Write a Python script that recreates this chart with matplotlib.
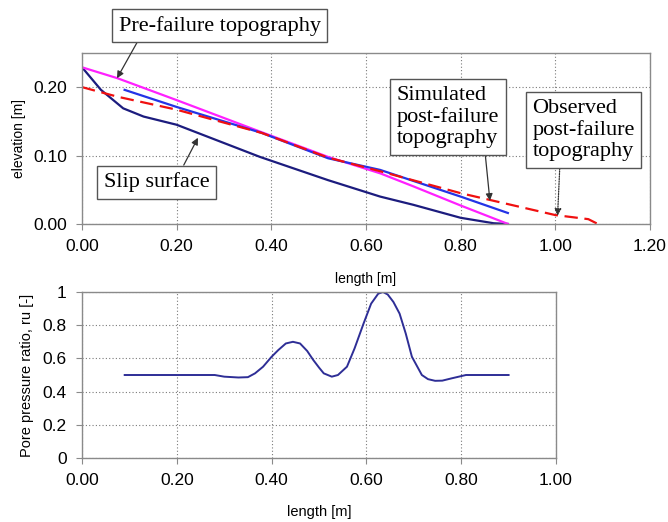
import numpy as np
import matplotlib
matplotlib.use('Agg')
import matplotlib.pyplot as plt
from matplotlib.ticker import FormatStrFormatter, FuncFormatter

# top panel: topography profiles (length [m], elevation [m])
pre_x = [0.0, 0.075, 0.20, 0.38, 0.52, 0.63, 0.70, 0.80, 0.90]
pre_y = [0.229, 0.213, 0.181, 0.134, 0.098, 0.074, 0.055, 0.027, 0.0]
sim_x = [0.09, 0.20, 0.38, 0.52, 0.63, 0.80, 0.90]
sim_y = [0.196, 0.171, 0.133, 0.096, 0.079, 0.040, 0.016]
obs_x = [0.0, 0.075, 0.20, 0.38, 0.52, 0.63, 0.80, 1.00, 1.07, 1.09]
obs_y = [0.200, 0.186, 0.167, 0.133, 0.097, 0.077, 0.045, 0.013, 0.007, 0.0]
slip_x = [0.0, 0.04, 0.087, 0.13, 0.20, 0.376, 0.52, 0.63, 0.70, 0.80, 0.87, 0.90]
slip_y = [0.229, 0.196, 0.169, 0.157, 0.145, 0.098, 0.064, 0.040, 0.028, 0.009, 0.001, 0.0]

# bottom panel: pore pressure ratio along the slope
ru_x = [0.09, 0.28, 0.30, 0.33, 0.35, 0.365, 0.382, 0.40, 0.414, 0.43, 0.445,
        0.46, 0.475, 0.488, 0.50, 0.51, 0.527, 0.54, 0.559, 0.575, 0.594,
        0.61, 0.625, 0.635, 0.645, 0.657, 0.67, 0.683, 0.696, 0.717, 0.73,
        0.745, 0.76, 0.78, 0.81, 0.90]
ru_y = [0.5, 0.5, 0.49, 0.485, 0.487, 0.51, 0.55, 0.61, 0.65, 0.69, 0.70,
        0.69, 0.645, 0.59, 0.545, 0.51, 0.49, 0.50, 0.55, 0.66, 0.81,
        0.93, 0.99, 1.0, 0.985, 0.94, 0.87, 0.75, 0.61, 0.50, 0.475,
        0.465, 0.466, 0.48, 0.5, 0.5]

top_xticks = [0.0, 0.2, 0.4, 0.6, 0.8, 1.0, 1.2]
top_yticks = [0.0, 0.1, 0.2]
bot_xticks = [0.0, 0.2, 0.4, 0.6, 0.8, 1.0]
bot_yticks = [0.0, 0.2, 0.4, 0.6, 0.8, 1.0]

SANS = 'Liberation Sans'
SERIF = 'Liberation Serif'
FRAME = '#8a8a8a'


def style_axes(ax):
    for s in ax.spines.values():
        s.set_color(FRAME)
        s.set_linewidth(1.0)
    ax.grid(True, color='#7a7a7a', linestyle=(0, (1, 2)), linewidth=0.8)
    ax.set_axisbelow(True)
    ax.tick_params(direction='out', length=4, color=FRAME, labelsize=12.5,
                   pad=7)
    for lab in ax.get_xticklabels() + ax.get_yticklabels():
        lab.set_fontfamily(SANS)


def arrow_props(rel, dotted=False):
    d = dict(arrowstyle='-|>', color='#333333', lw=0.9, mutation_scale=10,
             shrinkA=0, shrinkB=0, relpos=rel)
    if dotted:
        d['linestyle'] = (0, (1, 1))
    return d


fig = plt.figure(figsize=(6.68, 5.22), dpi=100)

ax1 = fig.add_axes([0.1228, 0.571, 0.850, 0.3276])
ax1.plot(slip_x, slip_y, color='#1c1c7e', lw=1.6)
ax1.plot(pre_x, pre_y, color='#ff20ff', lw=1.6)
ax1.plot(sim_x, sim_y, color='#2433e6', lw=1.6)
ax1.plot(obs_x, obs_y, color='#f01010', lw=1.6, dashes=(6, 3))
ax1.set_xlim(0, 1.2)
ax1.set_ylim(0, 0.25)
ax1.set_xticks(top_xticks)
ax1.set_yticks(top_yticks)
ax1.xaxis.set_major_formatter(FormatStrFormatter('%.2f'))
ax1.yaxis.set_major_formatter(FormatStrFormatter('%.2f'))
style_axes(ax1)
ax1.set_xlabel('length [m]', fontfamily=SANS, fontsize=10, labelpad=13)
ax1.set_ylabel('elevation [m]', fontfamily=SANS, fontsize=10, labelpad=5)

box = dict(boxstyle='square,pad=0.3', fc='white', ec='#555555', lw=1.0)
ax1.annotate('Pre-failure topography', xy=(0.074, 0.213), xytext=(0.291, 0.290),
             ha='center', va='center', fontfamily=SERIF, fontsize=16,
             bbox=box, arrowprops=arrow_props((0.11, 0.0)),
             annotation_clip=False)
ax1.annotate('Slip surface', xy=(0.245, 0.126), xytext=(0.158, 0.061),
             ha='center', va='center', fontfamily=SERIF, fontsize=16,
             bbox=box, arrowprops=arrow_props((0.72, 1.0)))
ax1.annotate('Simulated\npost-failure\ntopography', xy=(0.862, 0.034),
             xytext=(0.773, 0.156), ha='center', va='center',
             multialignment='left', fontfamily=SERIF, fontsize=16,
             linespacing=1.15, bbox=box,
             arrowprops=arrow_props((0.86, 0.0)))
ax1.annotate('Observed\npost-failure\ntopography', xy=(1.005, 0.012),
             xytext=(1.06, 0.137), ha='center', va='center',
             multialignment='left', fontfamily=SERIF, fontsize=16,
             linespacing=1.15, bbox=box,
             arrowprops=arrow_props((0.27, 0.0), dotted=True))

ax2 = fig.add_axes([0.1228, 0.1226, 0.7095, 0.318])
ax2.plot(ru_x, ru_y, color='#2e2e96', lw=1.4)
ax2.set_xlim(0, 1.0)
ax2.set_ylim(0, 1.0)
ax2.set_xticks(bot_xticks)
ax2.set_yticks(bot_yticks)
ax2.xaxis.set_major_formatter(FormatStrFormatter('%.2f'))
ax2.yaxis.set_major_formatter(FuncFormatter(lambda v, p: '%g' % round(v, 1)))
style_axes(ax2)
ax2.set_xlabel('length [m]', fontfamily=SANS, fontsize=10.5, labelpad=12)
ax2.set_ylabel('Pore pressure ratio, ru [-]', fontfamily=SANS, fontsize=10.5,
               labelpad=6)

fig.savefig('out.png', dpi=100)
